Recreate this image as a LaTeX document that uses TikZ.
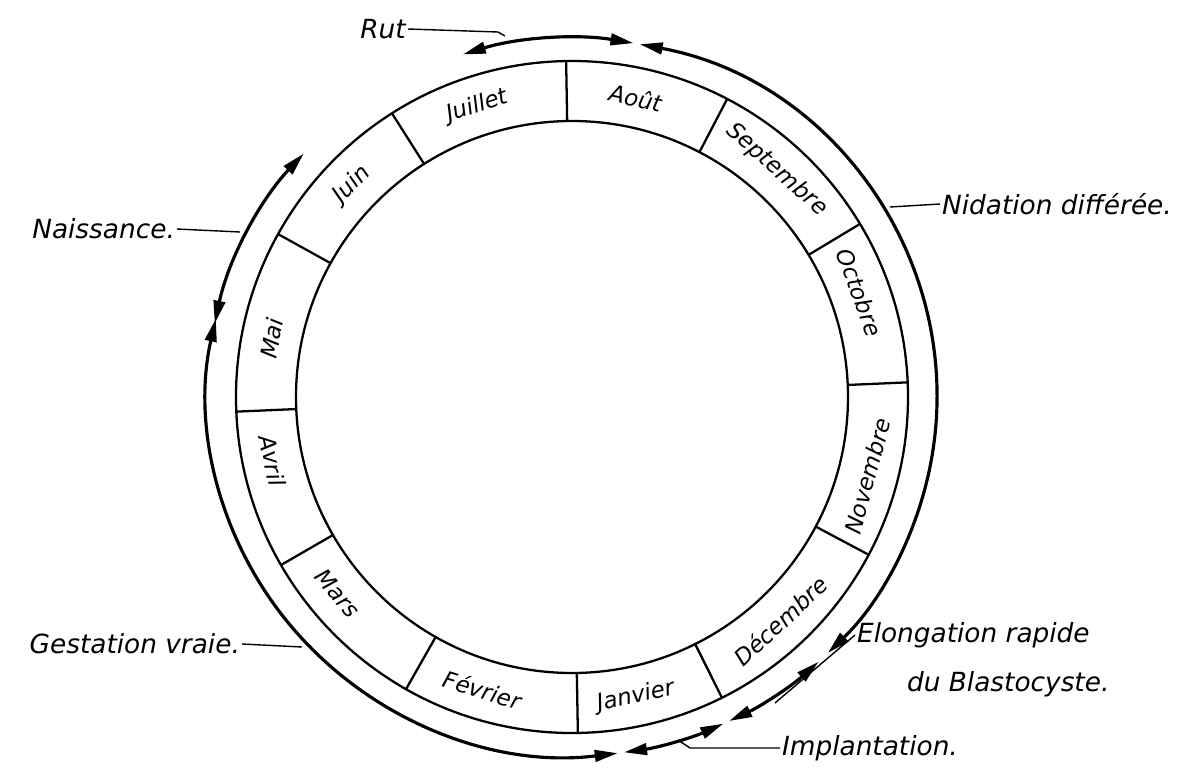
\documentclass[tikz,border=0pt]{standalone}
\usepackage{fontspec}
\setmainfont{DejaVu Sans}
\usetikzlibrary{arrows.meta}
\tikzset{
  >={Triangle[length=4.6mm,width=2.3mm]},
  ring/.style={line width=1.3pt},
  cyclearc/.style={line width=1.8pt, <->},
  lead/.style={line width=0.8pt},
  lab/.style={font=\fontsize{15}{18}\selectfont\itshape, inner sep=1pt},
  month/.style={font=\fontsize{13}{15}\selectfont\itshape, inner sep=0pt}
}
\begin{document}
\begin{tikzpicture}[x=0.02cm,y=0.02cm]
  \useasboundingbox (-572,-371) rectangle (625,397);
  \draw[ring] (0,0) circle (276);
  \draw[ring] (0,0) circle (336);
  \foreach \a in {91,62.5,31,2.5,-28,-63.5,-89,-119.6,-150,-177.5,151,122.4}
    \draw[ring] (\a:276) -- (\a:336);
  \foreach \a/\r/\m [count=\i] in {108/18/Juillet, 78/-12/Août, 48/-42/Septembre,
      20/-70/Octobre, -15/75/Novembre, -47/43/Décembre, -78/12/Janvier,
      -107/-17/Février, -140/-50/Mars, 192/-78/Avril, 169/79/Mai, 136/46/Juin}
    \node[month, rotate=\r] (m\i) at (\a:306) {\m};
  \foreach \s/\e in {107.4/80.3, 79.3/-45.5, -47.5/-64.5, -65.5/-81.8,
      -82.8/-192.6, 168.2/137.3}
    \draw[cyclearc] (\s:365 and 359) arc[start angle=\s, end angle=\e, x radius=365, y radius=359];
  \node[lab] (rut) at (-189,368) {Rut};
  \node[lab, anchor=east] (naiss) at (-395,168) {Naissance.};
  \node[lab, anchor=west] (nid) at (368,193) {Nidation différée.};
  \node[lab, anchor=east] (gest) at (-330,-247) {Gestation vraie.};
  \node[lab, anchor=west] (elong) at (283,-238) {Elongation rapide};
  \node[lab, anchor=west] (blasto) at (333,-287) {du Blastocyste.};
  \node[lab, anchor=west] (impl) at (208,-351) {Implantation.};
  \coordinate (rut-end) at (-67,361);
  \coordinate (naiss-end) at (-332,165);
  \coordinate (nid-end) at (318,190);
  \coordinate (gest-end) at (-270,-250);
  \coordinate (elong-end) at (203,-306);
  \coordinate (impl-end) at (106,-343);
  \draw[lead] (rut.east) -- (-74,365) -- (rut-end);
  \draw[lead] (naiss.east) -- (naiss-end);
  \draw[lead] (nid-end) -- (nid.west);
  \draw[lead] (gest.east) -- (gest-end);
  \draw[lead] (elong.west) -- (elong-end);
  \draw[lead] (impl.west) -- (118,-351) -- (impl-end);
\end{tikzpicture}
\end{document}
